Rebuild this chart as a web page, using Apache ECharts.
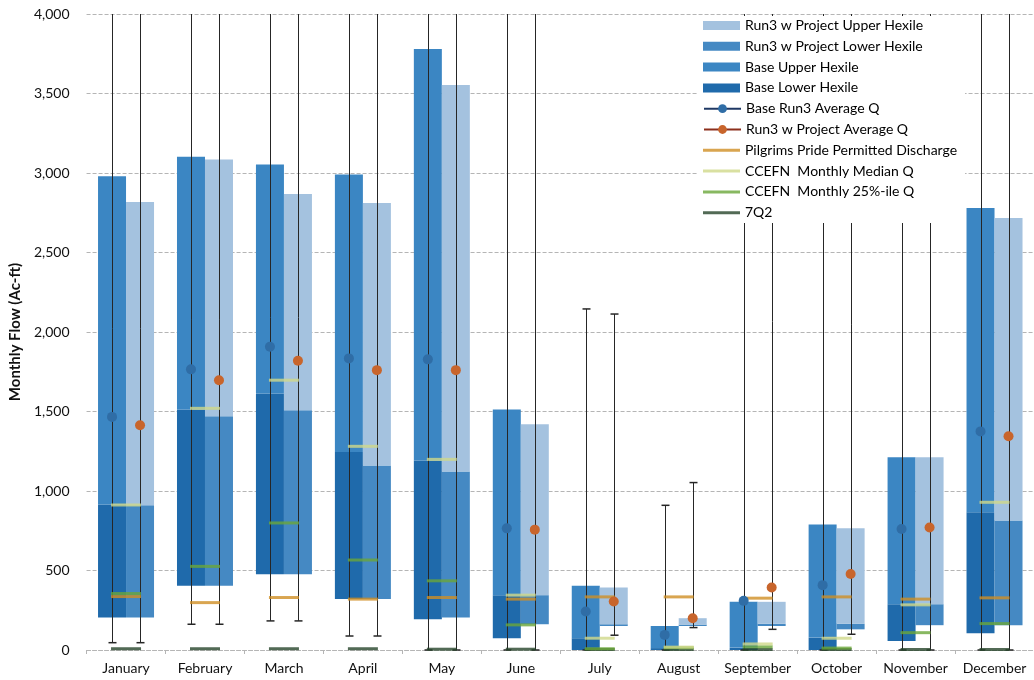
<!DOCTYPE html>
<html><head><meta charset="utf-8">
<script src="https://cdn.jsdelivr.net/npm/echarts@6/dist/echarts.min.js"></script>
<style>html,body{margin:0;padding:0;background:#fff}#c{width:1034px;height:680px}</style>
</head><body><div id="c"></div>
<script>
const months = ['January','February','March','April','May','June','July','August','September','October','November','December'];

// Base Run3 box: bottom, lower-hexile top, upper-hexile top (Ac-ft)
const baseLow  = [204, 404, 477, 320, 194, 74, 0, 0, 0, 0, 57, 105];
const baseMid  = [915, 1512, 1613, 1245, 1192, 345, 74, 12, 15, 78, 288, 866];
const baseHigh = [2980, 3102, 3054, 2990, 3780, 1512, 404, 151, 303, 789, 1213, 2780];
// Run3 w Project box
const run3Low  = [204, 404, 477, 320, 204, 162, 151, 151, 151, 130, 156, 156];
const run3Mid  = [910, 1470, 1508, 1161, 1123, 345, 162, 160, 165, 166, 288, 814];
const run3High = [2818, 3085, 2868, 2812, 3554, 1420, 393, 200, 303, 766, 1213, 2717];
// whiskers (values above 4,000 run off the chart)
const baseMin = [46, 162, 183, 88, 0, 0, 0, 0, 0, 0, 0, 0];
const baseMax = [4800, 4800, 4800, 4800, 4800, 4800, 2145, 910, 4500, 4500, 4500, 4800];
const run3Min = [46, 162, 183, 88, 0, 0, 93, 141, 130, 99, 0, 0];
const run3Max = [4800, 4800, 4800, 4800, 4800, 4800, 2113, 1053, 4500, 4500, 4500, 4800];
// averages
const baseAvg = [1466, 1765, 1907, 1834, 1828, 765, 242, 95, 309, 408, 761, 1375];
const run3Avg = [1413, 1697, 1819, 1760, 1760, 757, 305, 200, 393, 478, 771, 1344];
// reference levels
const pilgrims  = [336, 298, 330, 320, 330, 320, 334, 334, 326, 334, 320, 328];
const ccefnMed  = [912, 1520, 1697, 1281, 1199, 345, 74, 18, 38, 74, 284, 929];
const ccefn25   = [355, 526, 799, 566, 435, 158, 8, 14, 20, 12, 109, 166];
const q7q2      = [8, 8, 8, 8, 5, 5, 3, 3, 3, 3, 3, 3];

const FONT = 'Lato';
const C = {
  baseLower: '#1f6aab', baseUpper: '#3b86c3', runLower: '#4589c3', runUpper: '#a4c2df',
  baseDot: '#2f6da6', runDot: '#c8652c', pilgrims: '#cf8f24', med: '#cfd889', p25: '#6aa63a', q7: '#27452a'
};

const diff = (a, b) => a.map((v, i) => v - b[i]);

function whisker(offset) {
  return function (params, api) {
    const cs = params.coordSys;
    const idx = api.value(0);
    const x = Math.round(api.coord([idx, 0])[0] + offset) + 0.5;
    const yLo = api.coord([idx, api.value(1)])[1];
    const yHi = api.coord([idx, api.value(2)])[1];
    const top = cs.y;
    const st = { stroke: '#262626', lineWidth: 1 };
    const ch = [{ type: 'line', shape: { x1: x, y1: Math.max(yHi, top), x2: x, y2: yLo }, style: st }];
    ch.push({ type: 'line', shape: { x1: x - 4, y1: yLo, x2: x + 4, y2: yLo }, style: { stroke: '#262626', lineWidth: 1.5 } });
    if (yHi >= top) ch.push({ type: 'line', shape: { x1: x - 4, y1: yHi, x2: x + 4, y2: yHi }, style: { stroke: '#262626', lineWidth: 1.5 } });
    return { type: 'group', children: ch };
  };
}

function levelSeries(name, data, color) {
  return { name, type: 'scatter', data, symbol: 'rect', symbolSize: [30, 3], itemStyle: { color }, z: 5, silent: true };
}

const series = [
  { name: 'bLowPad', type: 'bar', stack: 'base', data: baseLow, itemStyle: { color: 'transparent' }, barWidth: 28, barGap: '0%', silent: true },
  { name: 'Base Lower Hexile', type: 'bar', stack: 'base', data: diff(baseMid, baseLow), itemStyle: { color: C.baseLower } },
  { name: 'Base Upper Hexile', type: 'bar', stack: 'base', data: diff(baseHigh, baseMid), itemStyle: { color: C.baseUpper } },
  { name: 'rLowPad', type: 'bar', stack: 'run3', data: run3Low, itemStyle: { color: 'transparent' }, barWidth: 28, silent: true },
  { name: 'Run3 w Project Lower Hexile', type: 'bar', stack: 'run3', data: diff(run3Mid, run3Low), itemStyle: { color: C.runLower } },
  { name: 'Run3 w Project Upper Hexile', type: 'bar', stack: 'run3', data: diff(run3High, run3Mid), itemStyle: { color: C.runUpper } },
  { name: 'baseWhisker', type: 'custom', renderItem: whisker(-14), data: baseMin.map((v, i) => [i, v, baseMax[i]]), encode: { x: 0, y: [1, 2] }, z: 3, silent: true },
  { name: 'run3Whisker', type: 'custom', renderItem: whisker(14), data: run3Min.map((v, i) => [i, v, run3Max[i]]), encode: { x: 0, y: [1, 2] }, z: 3, silent: true },
  levelSeries('7Q2', q7q2, C.q7),
  levelSeries('CCEFN  Monthly 25%-ile Q', ccefn25, C.p25),
  levelSeries('CCEFN  Monthly Median Q', ccefnMed, C.med),
  levelSeries('Pilgrims Pride Permitted Discharge', pilgrims, C.pilgrims),
  { name: 'Base Run3 Average Q', type: 'line', data: baseAvg, symbol: 'circle', symbolSize: 10, symbolOffset: [-14, 0], showAllSymbol: true,
    lineStyle: { opacity: 0 }, itemStyle: { color: C.baseDot }, z: 6, silent: true },
  { name: 'Run3 w Project Average Q', type: 'line', data: run3Avg, symbol: 'circle', symbolSize: 10, symbolOffset: [14, 0], showAllSymbol: true,
    lineStyle: { opacity: 0 }, itemStyle: { color: C.runDot }, z: 6, silent: true }
];

const legendDefs = [
  { name: 'Run3 w Project Upper Hexile', icon: 'rect', h: 9 },
  { name: 'Run3 w Project Lower Hexile', icon: 'rect', h: 9 },
  { name: 'Base Upper Hexile', icon: 'rect', h: 9 },
  { name: 'Base Lower Hexile', icon: 'rect', h: 9 },
  { name: 'Base Run3 Average Q', h: 11, line: '#1f3864' },
  { name: 'Run3 w Project Average Q', h: 11, line: '#8c2f1c' },
  { name: 'Pilgrims Pride Permitted Discharge', icon: 'rect', h: 3 },
  { name: 'CCEFN  Monthly Median Q', icon: 'rect', h: 3 },
  { name: 'CCEFN  Monthly 25%-ile Q', icon: 'rect', h: 3 },
  { name: '7Q2', icon: 'rect', h: 3 }
];
const legends = legendDefs.map((d, i) => {
  const l = {
    left: 703, top: 18.5 + i * 20.8, orient: 'vertical', padding: 0, z: 20,
    itemWidth: 37, itemHeight: d.h, data: [d.name], selectedMode: false,
    textStyle: { fontSize: 14, color: '#000', fontFamily: FONT }
  };
  if (d.icon) l.icon = d.icon;
  if (d.line) l.lineStyle = { color: d.line, width: 2, opacity: 1 };
  return l;
});

const chart = echarts.init(document.getElementById('c'), null, { renderer: 'canvas' });
chart.setOption({
  animation: false,
  backgroundColor: '#fff',
  grid: { left: 82, right: 0, top: 14, bottom: 30 },
  legend: legends,
  graphic: [{ type: 'rect', shape: { x: 697, y: 16, width: 268, height: 207 }, style: { fill: '#fff' }, z: 10, silent: true }],
  xAxis: {
    type: 'category', data: months,
    axisLine: { show: true, lineStyle: { color: '#b5b5b5', type: 'dashed' } },
    axisTick: { show: true, length: 4, lineStyle: { color: '#b5b5b5' } },
    axisLabel: { interval: 0, fontSize: 14, color: '#111', fontFamily: FONT, margin: 11 }
  },
  yAxis: {
    type: 'value', min: 0, max: 4000, interval: 500,
    name: 'Monthly Flow (Ac-ft)', nameLocation: 'middle', nameGap: 62, nameRotate: 90,
    nameTextStyle: { fontSize: 15, fontWeight: 'bold', color: '#111', fontFamily: FONT },
    axisLine: { show: false }, axisTick: { show: false },
    axisLabel: { fontSize: 14, color: '#111', fontFamily: FONT, margin: 17 },
    splitLine: { lineStyle: { color: '#b5b5b5', type: 'dashed' } }
  },
  series
});
</script>
</body></html>
